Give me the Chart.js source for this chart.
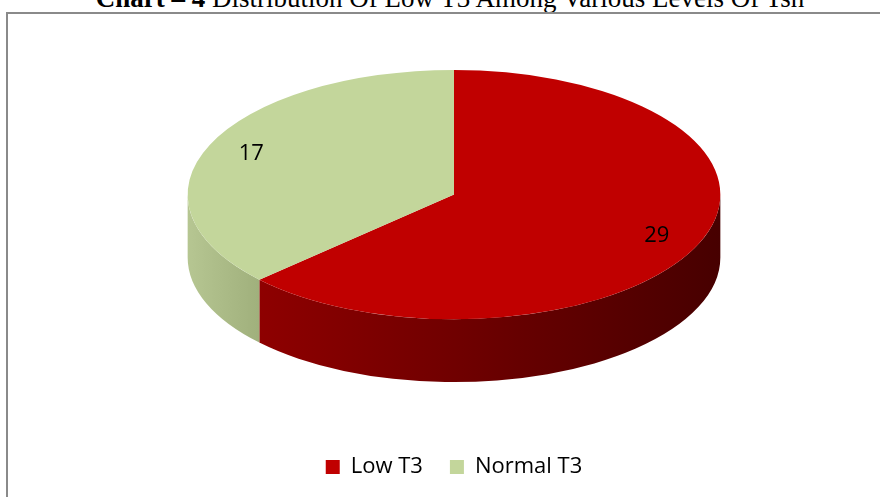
<!DOCTYPE html>
<html><head><meta charset="utf-8">
<script src="https://cdn.jsdelivr.net/npm/chart.js@4/dist/chart.umd.min.js"></script>
<style>
html,body{margin:0;padding:0;background:#fff;overflow:hidden;width:880px;height:497px}
#frame{position:absolute;left:6px;top:12px;width:1000px;height:1000px;border-left:2px solid #8a8a8a;border-top:2px solid #8a8a8a;}
#title{position:absolute;left:0;width:900px;top:-15px;text-align:center;font-family:"Liberation Serif","Times New Roman",serif;font-size:27px;line-height:27px;color:#000;white-space:nowrap}
#wrap{position:absolute;left:0;top:0;width:880px;height:497px}
</style></head><body>
<div id="title"><b>Chart – 4</b> Distribution Of Low T3 Among Various Levels Of Tsh</div>
<div id="frame"></div>
<div id="wrap"><canvas id="c" width="880" height="497"></canvas></div>
<script>
const categories = ['Low T3', 'Normal T3'];
const counts = [29, 17];

const palette = {
  top: ['#C00000', '#C3D69B'],
  wallLeft: ['#8E0000', '#B6C692'],
  wallRight: ['#470000', '#A0B07C']
};
const TILT = 125 / 267, WIDEN = 267 / 203.5, DEPTH = 63 / 267, LABEL_R = 0.83;

function geom(chart) {
  const meta = chart.getDatasetMeta(0);
  const a = meta.data[0];
  const R = a.outerRadius, cx = a.x, cy = a.y;
  const rx = R * WIDEN, ry = rx * TILT, depth = rx * DEPTH;
  return {meta, R, cx, cy, rx, ry, depth, ey: cy - depth / 2};
}

const pie3d = {
  id: 'pie3d',
  beforeDatasetsDraw(chart) {
    const g = geom(chart), ctx = chart.ctx;
    g.meta.data.forEach((arc, i) => {
      [[0, Math.PI], [2 * Math.PI, 3 * Math.PI]].forEach(([lo, hi]) => {
        const s = Math.max(arc.startAngle, lo), e = Math.min(arc.endAngle, hi);
        if (e <= s) return;
        const x1 = g.cx + g.rx * Math.cos(e), x2 = g.cx + g.rx * Math.cos(s);
        const grad = ctx.createLinearGradient(Math.min(x1, x2), 0, Math.max(x1, x2), 0);
        grad.addColorStop(0, palette.wallLeft[i]);
        grad.addColorStop(1, palette.wallRight[i]);
        ctx.beginPath();
        ctx.ellipse(g.cx, g.ey, g.rx, g.ry, 0, s, e, false);
        ctx.ellipse(g.cx, g.ey + g.depth, g.rx, g.ry, 0, e, s, true);
        ctx.closePath();
        ctx.fillStyle = grad;
        ctx.fill();
      });
    });
    ctx.save();
    ctx.translate(g.cx, g.ey);
    ctx.scale(g.rx / g.R, g.ry / g.R);
    ctx.translate(-g.cx, -g.cy);
  },
  afterDatasetsDraw(chart) {
    const ctx = chart.ctx;
    ctx.restore();
    const g = geom(chart);
    ctx.save();
    ctx.font = '22px "Open Sans"';
    ctx.fillStyle = '#000';
    ctx.textAlign = 'center';
    ctx.textBaseline = 'middle';
    g.meta.data.forEach((arc, i) => {
      const mid = (arc.startAngle + arc.endAngle) / 2;
      ctx.fillText(String(counts[i]), g.cx + g.rx * LABEL_R * Math.cos(mid), g.ey + g.ry * LABEL_R * Math.sin(mid));
    });
    ctx.restore();
  }
};

new Chart(document.getElementById('c'), {
  type: 'pie',
  data: {
    labels: categories,
    datasets: [{
      data: counts,
      backgroundColor: palette.top,
      borderWidth: 0,
      clip: false
    }]
  },
  options: {
    responsive: false,
    animation: false,
    layout: {padding: {top: 23, left: 28, right: 0, bottom: 9}},
    plugins: {
      tooltip: {enabled: false},
      title: {display: false},
      legend: {
        position: 'bottom',
        labels: {
          font: {family: '"Open Sans"', size: 22},
          color: '#000',
          boxWidth: 14,
          boxHeight: 14,
          padding: 27
        }
      }
    }
  },
  plugins: [pie3d]
});
</script>
</body></html>
